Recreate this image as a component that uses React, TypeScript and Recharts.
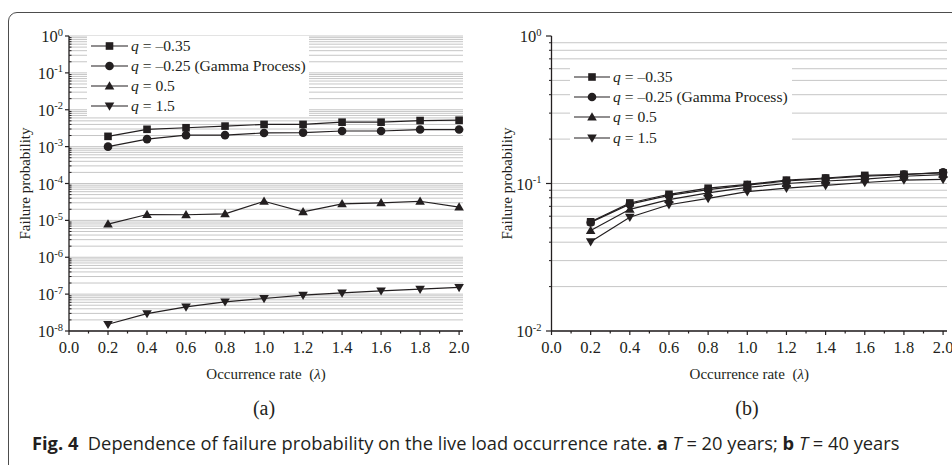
import { LineChart, Line, XAxis, YAxis, CartesianGrid, Label } from 'recharts';

// occurrence rate (lambda)
const lambdaValues = [0.2, 0.4, 0.6, 0.8, 1.0, 1.2, 1.4, 1.6, 1.8, 2.0];

// (a) T = 20 years
const pfA_qm035 = [1.9e-3, 2.95e-3, 3.25e-3, 3.6e-3, 4.0e-3, 4.0e-3, 4.6e-3, 4.6e-3, 5.1e-3, 5.2e-3];
const pfA_qm025 = [1.0e-3, 1.6e-3, 2.05e-3, 2.05e-3, 2.35e-3, 2.4e-3, 2.65e-3, 2.65e-3, 2.9e-3, 2.9e-3];
const pfA_q05 = [7.9e-6, 1.44e-5, 1.42e-5, 1.5e-5, 3.3e-5, 1.7e-5, 2.8e-5, 3.0e-5, 3.3e-5, 2.3e-5];
const pfA_q15 = [1.52e-8, 2.97e-8, 4.5e-8, 6.2e-8, 7.6e-8, 9.4e-8, 1.08e-7, 1.23e-7, 1.37e-7, 1.52e-7];

// (b) T = 40 years
const pfB_qm035 = [0.055, 0.0738, 0.0845, 0.0929, 0.0985, 0.1054, 0.109, 0.1135, 0.1155, 0.118];
const pfB_qm025 = [0.0545, 0.0725, 0.083, 0.091, 0.0975, 0.104, 0.108, 0.112, 0.115, 0.119];
const pfB_q05 = [0.048, 0.0668, 0.0777, 0.0864, 0.094, 0.1, 0.104, 0.107, 0.112, 0.115];
const pfB_q15 = [0.0403, 0.0591, 0.0718, 0.0793, 0.088, 0.093, 0.097, 0.1016, 0.1055, 0.1065];

const seriesKeys = ['qm035', 'qm025', 'q05', 'q15'];
const seriesShapes = ['square', 'circle', 'up', 'down'];
const legendValues = ['–0.35', '–0.25 (Gamma Process)', '0.5', '1.5'];

const xTicks = [0, 0.1, 0.2, 0.3, 0.4, 0.5, 0.6, 0.7, 0.8, 0.9, 1.0, 1.1, 1.2, 1.3, 1.4, 1.5, 1.6, 1.7, 1.8, 1.9, 2.0];
const mantissas = [1, 2, 3, 4, 5, 6, 7, 8, 9];
const decadesA = [-8, -7, -6, -5, -4, -3, -2, -1];
const decadesB = [-2, -1];

const yTicksA = decadesA.flatMap((e) => mantissas.map((m) => m * Math.pow(10, e))).concat([1]);
const yTicksB = decadesB.flatMap((e) => mantissas.map((m) => m * Math.pow(10, e))).concat([1]);

const dataA = lambdaValues.map((l, i) => ({
  lambda: l, qm035: pfA_qm035[i], qm025: pfA_qm025[i], q05: pfA_q05[i], q15: pfA_q15[i],
}));
const dataB = lambdaValues.map((l, i) => ({
  lambda: l, qm035: pfB_qm035[i], qm025: pfB_qm025[i], q05: pfB_q05[i], q15: pfB_q15[i],
}));

const INK = '#231f20';
const SERIF = '"Liberation Serif", "Times New Roman", serif';

function Marker({ shape, cx, cy }: { shape: string; cx: number; cy: number }) {
  if (cx == null || cy == null) return null;
  if (shape === 'square') return <rect x={cx - 3.8} y={cy - 3.8} width={7.6} height={7.6} fill={INK} />;
  if (shape === 'circle') return <circle cx={cx} cy={cy} r={4.3} fill={INK} />;
  if (shape === 'up')
    return <polygon points={`${cx},${cy - 4.8} ${cx + 4.8},${cy + 3.4} ${cx - 4.8},${cy + 3.4}`} fill={INK} />;
  return <polygon points={`${cx},${cy + 4.8} ${cx + 4.8},${cy - 3.4} ${cx - 4.8},${cy - 3.4}`} fill={INK} />;
}

function isMajor(v: number) {
  const l = Math.log10(v);
  return Math.abs(l - Math.round(l)) < 1e-6;
}

function makeYTick(majorLen: number, minorLen: number, minorInside: boolean, gap: number) {
  return (props: any) => {
    const { x, y, payload } = props;
    const v = payload.value;
    const major = isMajor(v);
    const exp = Math.round(Math.log10(v));
    return (
      <g>
        {major ? (
          <line x1={x - majorLen} x2={x} y1={y} y2={y} stroke={INK} strokeWidth={1.2} />
        ) : (
          <line x1={minorInside ? x : x - minorLen} x2={minorInside ? x + minorLen : x} y1={y} y2={y} stroke={INK} strokeWidth={1} />
        )}
        {major && (
          <text x={x - gap} y={y + 6} textAnchor="end" fontFamily={SERIF} fontSize={16.5} fill={INK}>
            10
            <tspan dy={-6.5} fontSize={10.5}>{String(exp)}</tspan>
          </text>
        )}
      </g>
    );
  };
}

function XTick(props: any) {
  const { x, y, payload, index } = props;
  const major = index % 2 === 0;
  return (
    <g>
      <line x1={x} x2={x} y1={y} y2={y + (major ? 4 : 2.5)} stroke={INK} strokeWidth={1.2} />
      {major && (
        <text x={x} y={y + 22} textAnchor="middle" fontFamily={SERIF} fontSize={16.5} fill={INK}>
          {Number(payload.value).toFixed(1)}
        </text>
      )}
    </g>
  );
}

function xTitle(props: any) {
  const { x, y, width } = props.viewBox;
  return (
    <text x={x + width / 2} y={y + 48} textAnchor="middle" fontFamily={SERIF} fontSize={15} fill={INK}>
      {'Occurrence rate\u00a0\u00a0('}<tspan fontStyle="italic">λ</tspan>)
    </text>
  );
}

function makeYTitle(dx: number) {
  return (props: any) => {
    const { x, y, width, height } = props.viewBox;
    const cx = x + width - dx;
    const cy = y + height / 2;
    return (
      <text x={cx} y={cy} textAnchor="middle" dominantBaseline="central" transform={`rotate(-90 ${cx} ${cy})`}
        fontFamily={SERIF} fontSize={15} fill={INK}>
        Failure probability
      </text>
    );
  };
}

function LegendBox({ left, top, rowY, lineX }: { left: number; top: number; rowY: number[]; lineX: [number, number] }) {
  return (
    <div style={{ position: 'absolute', left, top, width: 222, height: rowY[3] + 10, background: '#fff' }}>
      <svg width={222} height={rowY[3] + 10}>
        {legendValues.map((val, i) => (
          <g key={val}>
            <line x1={lineX[0]} x2={lineX[1]} y1={rowY[i]} y2={rowY[i]} stroke={INK} strokeWidth={1.2} />
            <Marker shape={seriesShapes[i]} cx={(lineX[0] + lineX[1]) / 2} cy={rowY[i]} />
            <text x={lineX[1] + 3} y={rowY[i] + 5} fontFamily={SERIF} fontSize={15.6} fill={INK}>
              <tspan fontStyle="italic">q</tspan> = {val}
            </text>
          </g>
        ))}
      </svg>
    </div>
  );
}

function Panel({ data, domain, yTicks, width, margin, tick, yTitleDx, gridValues }: any) {
  return (
    <LineChart width={width} height={465} data={data} margin={margin}>
      <CartesianGrid vertical={false} stroke="#c6c6c6" strokeWidth={1} horizontalValues={gridValues} />
      <XAxis dataKey="lambda" type="number" domain={[0, 2.02]} ticks={xTicks} interval={0} height={1}
        tickSize={0} tickMargin={0} tick={XTick} axisLine={{ stroke: INK, strokeWidth: 1.3 }} tickLine={false}>
        <Label content={xTitle} />
      </XAxis>
      <YAxis type="number" scale="log" domain={domain} allowDataOverflow ticks={yTicks} interval={0} width={1}
        tickSize={0} tickMargin={0} tick={tick} axisLine={{ stroke: INK, strokeWidth: 1.3 }} tickLine={false}>
        <Label content={makeYTitle(yTitleDx)} />
      </YAxis>
      {seriesKeys.map((k, i) => (
        <Line key={k} dataKey={k} stroke={INK} strokeWidth={1.2} isAnimationActive={false} activeDot={false}
          dot={(p: any) => <Marker key={`${k}-${p.index}`} shape={seriesShapes[i]} cx={p.cx} cy={p.cy} />} />
      ))}
    </LineChart>
  );
}

export default function App() {
  return (
    <div style={{ position: 'absolute', left: 0, top: 0, width: 952, height: 465, overflow: 'hidden', background: '#fff' }}>
      <div style={{ position: 'absolute', left: 8, top: 12, width: 1000, height: 520, border: '1.5px solid #4d4d4d', borderRadius: 9, boxSizing: 'border-box' }} />
      <div style={{ position: 'absolute', left: 0, top: 0 }}>
        <Panel data={dataA} domain={[1e-8, 1]} yTicks={yTicksA} width={476}
          margin={{ top: 36, right: 13, bottom: 133, left: 68 }}
          tick={makeYTick(4, 2.5, true, 6)} yTitleDx={44} gridValues={yTicksA} />
      </div>
      <div style={{ position: 'absolute', left: 480, top: 0 }}>
        <Panel data={dataB} domain={[0.01, 1]} yTicks={yTicksB} width={472}
          margin={{ top: 36, right: 5, bottom: 133, left: 70.5 }}
          tick={makeYTick(5.5, 2.5, false, 10)} yTitleDx={44.5} gridValues={yTicksB.filter((v) => v < 1)} />
      </div>
      <LegendBox left={87} top={36} rowY={[10, 30, 50, 70]} lineX={[4, 41]} />
      <LegendBox left={570} top={64} rowY={[13, 33, 53, 74]} lineX={[4, 40]} />
      <div style={{ position: 'absolute', left: 244, top: 395, width: 40, textAlign: 'center', fontFamily: SERIF, fontSize: 20, color: INK, lineHeight: '26px' }}>(a)</div>
      <div style={{ position: 'absolute', left: 727, top: 395, width: 40, textAlign: 'center', fontFamily: SERIF, fontSize: 20, color: INK, lineHeight: '26px' }}>(b)</div>
      <div style={{ position: 'absolute', left: 32, top: 432, whiteSpace: 'nowrap', fontFamily: '"Open Sans", sans-serif', fontSize: 18.3, color: INK, lineHeight: '22px' }}>
        <b>Fig. 4</b>{'\u00a0\u00a0'}Dependence of failure probability on the live load occurrence rate. <b>a</b> <i>T</i> = 20 years; <b>b</b> <i>T</i> = 40 years
      </div>
    </div>
  );
}
